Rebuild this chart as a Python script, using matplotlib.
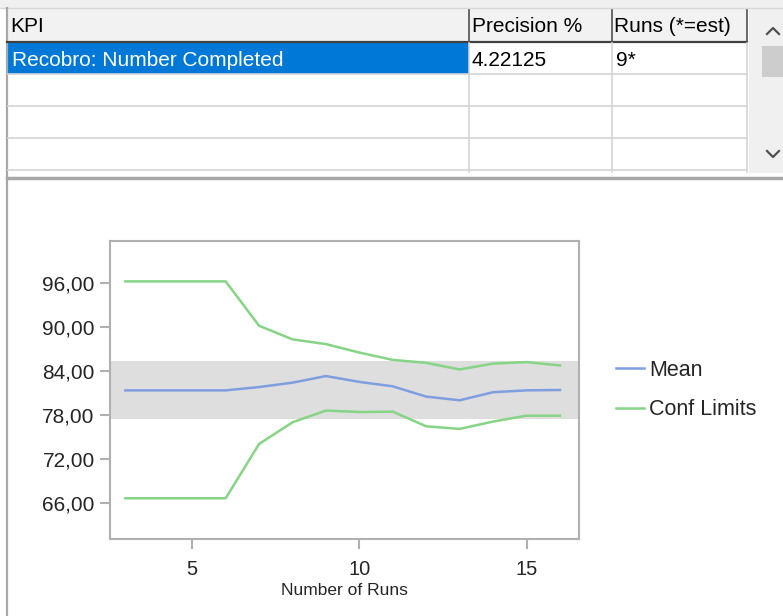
import matplotlib
matplotlib.use("Agg")
import matplotlib.pyplot as plt
from matplotlib.patches import Rectangle

plt.rcParams["font.family"] = ["Liberation Sans", "DejaVu Sans"]

# KPI table
columns = ["KPI", "Precision %", "Runs (*=est)"]
kpi_name = "Recobro: Number Completed"
precision = "4.22125"
runs_est = "9*"

# convergence data
runs = [3, 4, 5, 6, 7, 8, 9, 10, 11, 12, 13, 14, 15, 16]
mean = [81.35, 81.35, 81.35, 81.35, 81.8, 82.4, 83.3, 82.5, 81.9, 80.5, 80.0, 81.1, 81.35, 81.4]
upper = [96.2, 96.2, 96.2, 96.2, 90.15, 88.3, 87.65, 86.5, 85.5, 85.1, 84.2, 85.0, 85.2, 84.75]
lower = [66.65, 66.65, 66.65, 66.65, 74.05, 77.0, 78.6, 78.4, 78.45, 76.45, 76.1, 77.1, 77.9, 77.9]
band = (77.46, 85.29)
y_ticks = [66, 72, 78, 84, 90, 96]
x_ticks = [5, 10, 15]

W, H = 783, 616
fig = plt.figure(figsize=(W / 100, H / 100), dpi=100)

# pixel-space layer for the window chrome and table
ov = fig.add_axes([0, 0, 1, 1], zorder=0)
ov.set_xlim(0, W)
ov.set_ylim(H, 0)
ov.axis("off")

ov.add_patch(Rectangle((0, 0), W, 8, color="#f0f0f0", lw=0))
ov.add_patch(Rectangle((7, 9), 740, 33, color="#f2f2f2", lw=0))
ov.add_patch(Rectangle((8, 43), 461, 31, color="#0078d7", lw=0))
ov.add_patch(Rectangle((749, 8), W - 749, 165, color="#f0f0f0", lw=0))
ov.add_patch(Rectangle((762, 46), W - 762, 31, color="#cdcdcd", lw=0))

ov.plot([0, W], [8, 8], color="#d8d8d8", lw=1)
ov.plot([7, 7], [8, H], color="#a8a8a8", lw=1.6)
ov.plot([7, 747], [42, 42], color="#404040", lw=1.6)
for x in (469, 612, 747):
    ov.plot([x, x], [10, 42], color="#505050", lw=1.2)
    ov.plot([x, x], [43, 172], color="#d4d4d4", lw=1.2)
for y in (74, 106, 138, 170):
    ov.plot([8, 747], [y, y], color="#d4d4d4", lw=1.2)
ov.plot([7, W], [177.5, 177.5], color="#a8a8a8", lw=2.5)

# scroll arrows
ov.plot([767, 773, 779], [34, 28, 34], color="#505050", lw=1.6)
ov.plot([767, 773, 779], [151, 157, 151], color="#505050", lw=1.6)

cell_kw = dict(fontsize=15, va="center", ha="left")
for text, x in zip(columns, (10, 472, 614)):
    ov.text(x, 26, text, color="black", **cell_kw)
ov.text(12, 60, kpi_name, color="white", **cell_kw)
ov.text(472, 60, precision, color="black", **cell_kw)
ov.text(616, 60, runs_est, color="black", **cell_kw)

# chart
ax = fig.add_axes([110 / W, 1 - 539 / H, 469 / W, 298 / H], zorder=1)
ax.set_facecolor("white")
ax.axhspan(band[0], band[1], color="#dedede", lw=0, zorder=0)
ax.plot(runs, mean, color="#7f9ee0", lw=1.8, label="Mean", zorder=2)
ax.plot(runs, upper, color="#86d486", lw=1.8, label="Conf Limits", zorder=2)
ax.plot(runs, lower, color="#86d486", lw=1.8, zorder=2)

ax.set_xlim(2.54, 16.57)
ax.set_ylim(61.1, 101.7)
ax.set_xticks(x_ticks)
ax.set_yticks(y_ticks)
ax.set_yticklabels([f"{v:.2f}".replace(".", ",") for v in y_ticks])
for s in ax.spines.values():
    s.set_color("#b0b0b0")
    s.set_linewidth(1.5)
ax.tick_params(direction="out", length=7, width=1.5, color="#b0b0b0",
               labelcolor="#252525")
ax.tick_params(axis="y", labelsize=15, pad=4)
ax.tick_params(axis="x", labelsize=14.5, pad=8)
ax.set_xlabel("Number of Runs", fontsize=12.5, color="#252525", labelpad=3)

leg = ax.legend(loc="center left", bbox_to_anchor=(1.06, 0.5), frameon=False,
                fontsize=15.5, handlelength=1.3, handletextpad=0.25,
                labelspacing=0.85, borderaxespad=0)
for t in leg.get_texts():
    t.set_color("#252525")

fig.savefig("out.png", dpi=100)
